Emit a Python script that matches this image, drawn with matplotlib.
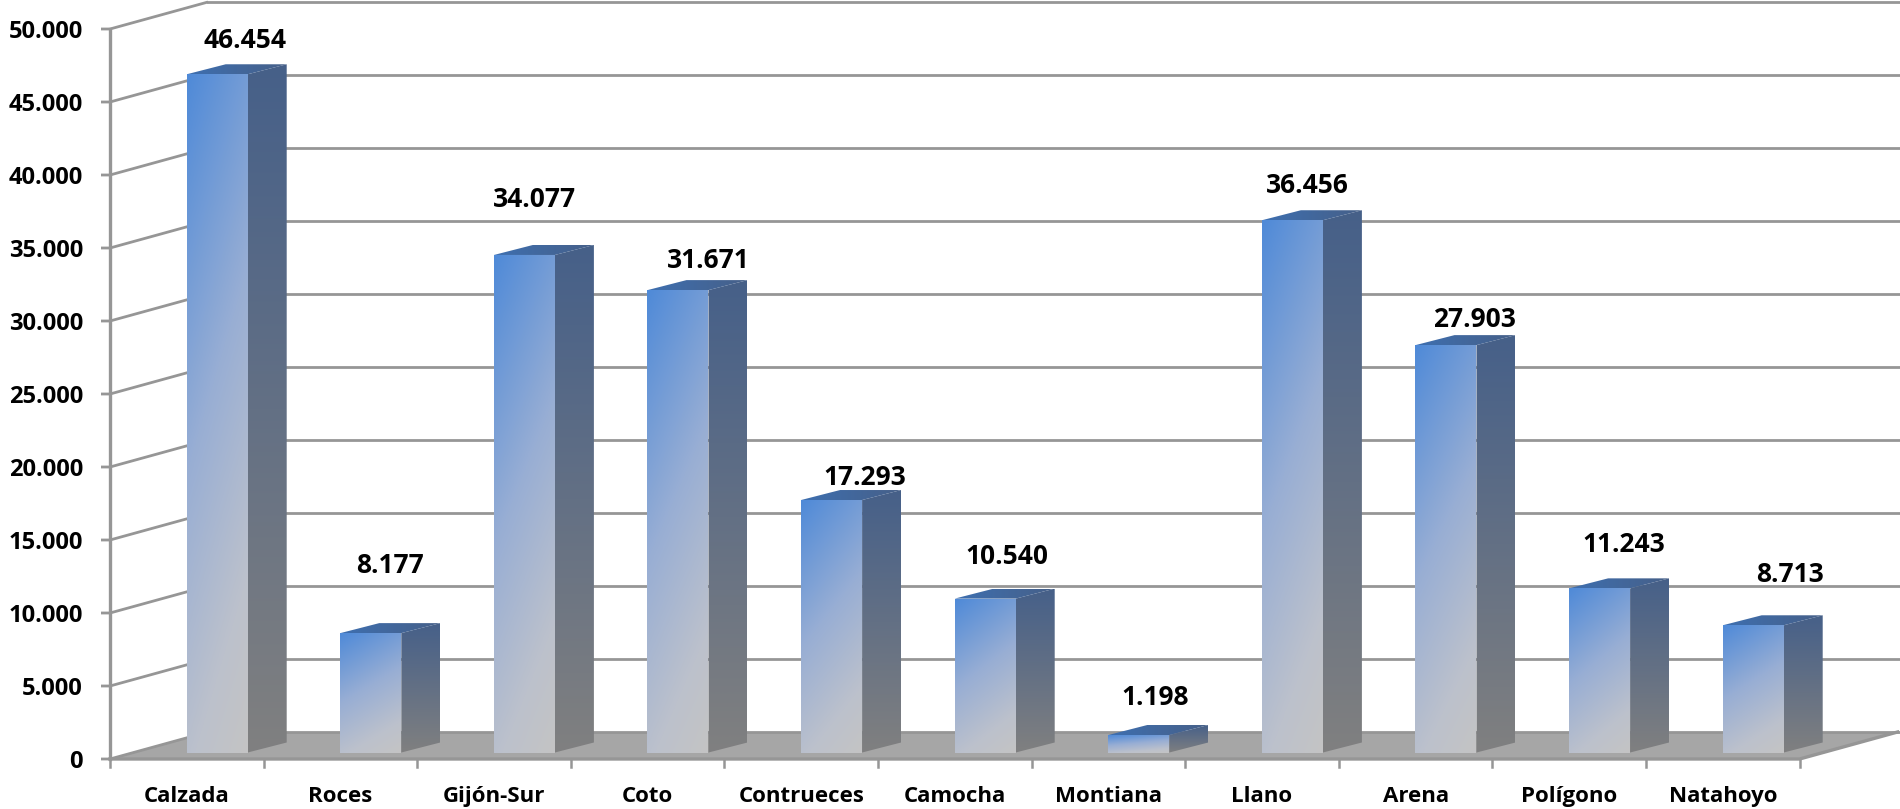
import matplotlib
matplotlib.use('Agg')
import matplotlib.pyplot as plt
import numpy as np
from matplotlib.colors import LinearSegmentedColormap
from matplotlib.patches import Polygon

categories = ['Calzada', 'Roces', 'Gijón-Sur', 'Coto', 'Contrueces', 'Camocha',
              'Montiana', 'Llano', 'Arena', 'Polígono', 'Natahoyo']
values = [46454, 8177, 34077, 31671, 17293, 10540, 1198, 36456, 27903, 11243, 8713]
y_ticks = [0, 5000, 10000, 15000, 20000, 25000, 30000, 35000, 40000, 45000, 50000]

# label nudges in pixels, the labels were placed by hand in the original
label_dx = [58, 50, 41, 61, 64, 52, 47, 45, 59, 55, 67]
label_dy = [34, 68, 55, 30, 23, 42, 38, 35, 26, 44, 51]

PX_X = 153.6       # pixels per category
PX_Y = 0.0146      # pixels per unit
X0, Y0 = 110, 759  # pixel of the axis origin

plt.rcParams['font.family'] = ['Open Sans', 'DejaVu Sans']
plt.rcParams['font.weight'] = 'bold'

fig = plt.figure(figsize=(19, 8.09), dpi=100)
ax = fig.add_axes([0, 0, 1, 1])
xlim = (-X0 / PX_X, (1900 - X0) / PX_X)
ylim = ((Y0 - 809) / PX_Y, Y0 / PX_Y)
ax.axis('off')

# depth of the wall and of the bars, in data units
wall_dx, wall_dy = 98 / PX_X, 27 / PX_Y
bar_dx, bar_dy = 39 / PX_X, 10 / PX_Y
bar_left, bar_w = 76.7 / PX_X, 61 / PX_X
bar_base = 6.5 / PX_Y

grid = '#969696'
n = len(categories)

# floor
ax.add_patch(Polygon([(0, 0), (n, 0), (n + wall_dx, wall_dy), (wall_dx, wall_dy)],
                     closed=True, fc='#a6a6a6', ec='none', zorder=1))

# walls and value axis
for t in y_ticks:
    ax.plot([-9 / PX_X, 0, wall_dx], [t, t, t + wall_dy], color=grid, lw=2, zorder=2,
            solid_capstyle='butt', solid_joinstyle='miter')
    ax.plot([wall_dx, xlim[1]], [t + wall_dy, t + wall_dy], color=grid, lw=2, zorder=2)
    ax.text(-27 / PX_X, t - 3 / PX_Y, f'{t:,}'.replace(',', '.'), ha='right', va='center',
            fontsize=17, color='black', zorder=6)
ax.plot([0, 0], [0, 50000], color=grid, lw=2.4, zorder=5)

# category axis
ax.plot([0, n, n + wall_dx], [0, 0, wall_dy], color=grid, lw=2.4, zorder=2)
for i in range(n + 1):
    ax.plot([i, i], [0, -8 / PX_Y], color=grid, lw=1.8, zorder=2)
for i, c in enumerate(categories):
    ax.text(i + 0.5, -37.5 / PX_Y, c, ha='center', va='center', fontsize=16, color='black')

front_cm = LinearSegmentedColormap.from_list(
    'front', [(0, '#4f8ad8'), (0.45, '#98aed4'), (0.8, '#bcc1cc'), (1, '#c4c4c4')])
side_cm = LinearSegmentedColormap.from_list('side', ['#466089', '#808080'])
top_cm = LinearSegmentedColormap.from_list('top', ['#3e6fb0', '#466089'])


def shade(poly, extent, t, cmap, z):
    im = ax.imshow(t, extent=extent, origin='lower', aspect='auto', cmap=cmap,
                   vmin=0, vmax=1, zorder=z, interpolation='bilinear')
    patch = Polygon(poly, closed=True, fc='none', ec='none', transform=ax.transData)
    ax.add_patch(patch)
    im.set_clip_path(patch)


for i, (v, c) in enumerate(zip(values, categories)):
    left = i + bar_left
    right = left + bar_w
    top = bar_base + v
    z = 3 + i * 0.01

    # front face
    u, w = np.meshgrid(np.linspace(0, 1, 80), np.linspace(0, 1, 300))
    t = ((1 - w) + 0.3 * u) / 1.3
    shade([(left, bar_base), (right, bar_base), (right, top), (left, top)],
          (left, right, bar_base, top), t, front_cm, z)

    # side face
    t = 1 - w
    ext = (right, right + bar_dx, bar_base, top + bar_dy)
    shade([(right, bar_base), (right + bar_dx, bar_base + bar_dy),
           (right + bar_dx, top + bar_dy), (right, top)], ext, t, side_cm, z)

    # top face
    t = u
    ext = (left, right + bar_dx, top, top + bar_dy)
    shade([(left, top), (right, top), (right + bar_dx, top + bar_dy),
           (left + bar_dx, top + bar_dy)], ext, t, top_cm, z + 0.001)

    ax.text(i + 0.5 + label_dx[i] / PX_X, top + label_dy[i] / PX_Y,
            f'{v:,}'.replace(',', '.'), ha='center', va='center',
            fontsize=19, color='black', zorder=6)

ax.set_xlim(xlim)
ax.set_ylim(ylim)

fig.savefig('out.png', dpi=100, facecolor='white')
